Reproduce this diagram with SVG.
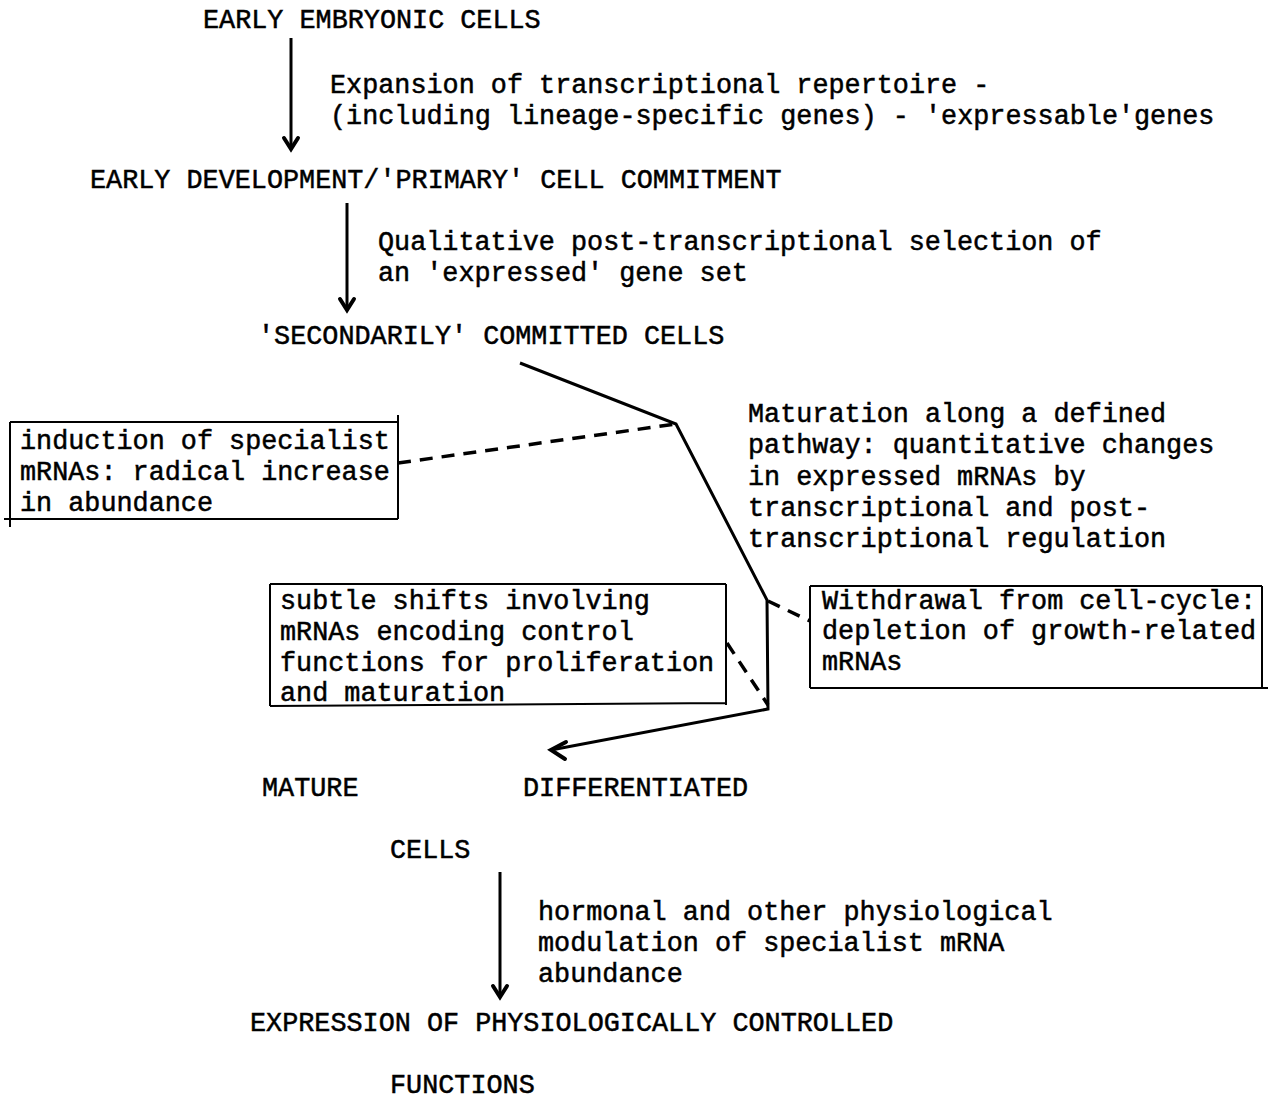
<svg xmlns="http://www.w3.org/2000/svg" width="1268" height="1099" viewBox="0 0 1268 1099">
<style>
  text { font-family: "Liberation Mono", "DejaVu Sans Mono", monospace; font-size: 26.8px; fill: #000; stroke: #000; stroke-width: 0.5; }
  .ln { fill: none; stroke: #000; stroke-width: 3; stroke-linejoin: miter; stroke-linecap: butt; }
  .box { fill: none; stroke: #000; stroke-width: 2; }
  .dash { fill: none; stroke: #000; stroke-width: 3.5; stroke-dasharray: 13 9; }
  .head { fill: none; stroke: #000; stroke-width: 4; stroke-linecap: round; stroke-linejoin: miter; }
</style>
<rect width="1268" height="1099" fill="#fff"/>

<g id="connectors">
  <line class="ln" x1="291" y1="38" x2="291" y2="148"/>
  <polyline class="head" points="284,138 291,149 298,138"/>
  <line class="ln" x1="347" y1="203" x2="347" y2="309"/>
  <polyline class="head" points="340,299 347,310 354,299"/>
  <line class="ln" x1="500" y1="872" x2="500" y2="996"/>
  <polyline class="head" points="493,986 500,997 507,986"/>
  <polyline class="ln" points="520,363 676,424 767,600 768,709 551,750"/>
  <polyline class="head" points="566,742 551,750 565,759"/>
  <line class="dash" x1="398" y1="463" x2="676" y2="424"/>
  <line class="dash" x1="768" y1="601" x2="810" y2="621"/>
  <line class="dash" x1="727" y1="643" x2="768" y2="705"/>
</g>

<g id="n-early-embryonic"><text x="203" y="28">EARLY EMBRYONIC CELLS</text></g>
<g id="l-expansion">
  <text x="330" y="93">Expansion of transcriptional repertoire -</text>
  <text x="330" y="124">(including lineage-specific genes) - 'expressable'genes</text>
</g>
<g id="n-early-development"><text x="90" y="188">EARLY DEVELOPMENT/'PRIMARY' CELL COMMITMENT</text></g>
<g id="l-qualitative">
  <text x="378" y="250">Qualitative post-transcriptional selection of</text>
  <text x="378" y="281">an 'expressed' gene set</text>
</g>
<g id="n-secondarily"><text x="258" y="344">'SECONDARILY' COMMITTED CELLS</text></g>

<g id="n-induction">
  <path class="box" d="M10,422 H398 M398,415 V519 M10,422 V527 M4,519 H398"/>
  <text x="20" y="449">induction of specialist</text>
  <text x="20" y="480">mRNAs: radical increase</text>
  <text x="20" y="511">in abundance</text>
</g>

<g id="l-maturation">
  <text x="748" y="422">Maturation along a defined</text>
  <text x="748" y="453">pathway: quantitative changes</text>
  <text x="748" y="485">in expressed mRNAs by</text>
  <text x="748" y="516">transcriptional and post-</text>
  <text x="748" y="547">transcriptional regulation</text>
</g>

<g id="n-subtle">
  <path class="box" d="M270,584 H726 M726,584 V705 M270,584 V706 M270,706 L726,703"/>
  <text x="280" y="609">subtle shifts involving</text>
  <text x="280" y="640">mRNAs encoding control</text>
  <text x="280" y="671">functions for proliferation</text>
  <text x="280" y="701">and maturation</text>
</g>

<g id="n-withdrawal">
  <path class="box" d="M810,586 H1262 M1262,586 V688 M810,586 V688 M810,688 H1268"/>
  <text x="822" y="609">Withdrawal from cell-cycle:</text>
  <text x="822" y="639">depletion of growth-related</text>
  <text x="822" y="670">mRNAs</text>
</g>

<g id="n-mature">
  <text x="262" y="796">MATURE</text>
  <text x="523" y="796">DIFFERENTIATED</text>
  <text x="390" y="858">CELLS</text>
</g>

<g id="l-hormonal">
  <text x="538" y="920">hormonal and other physiological</text>
  <text x="538" y="951">modulation of specialist mRNA</text>
  <text x="538" y="982">abundance</text>
</g>

<g id="n-expression">
  <text x="250" y="1031">EXPRESSION OF PHYSIOLOGICALLY CONTROLLED</text>
  <text x="390" y="1093">FUNCTIONS</text>
</g>
</svg>
